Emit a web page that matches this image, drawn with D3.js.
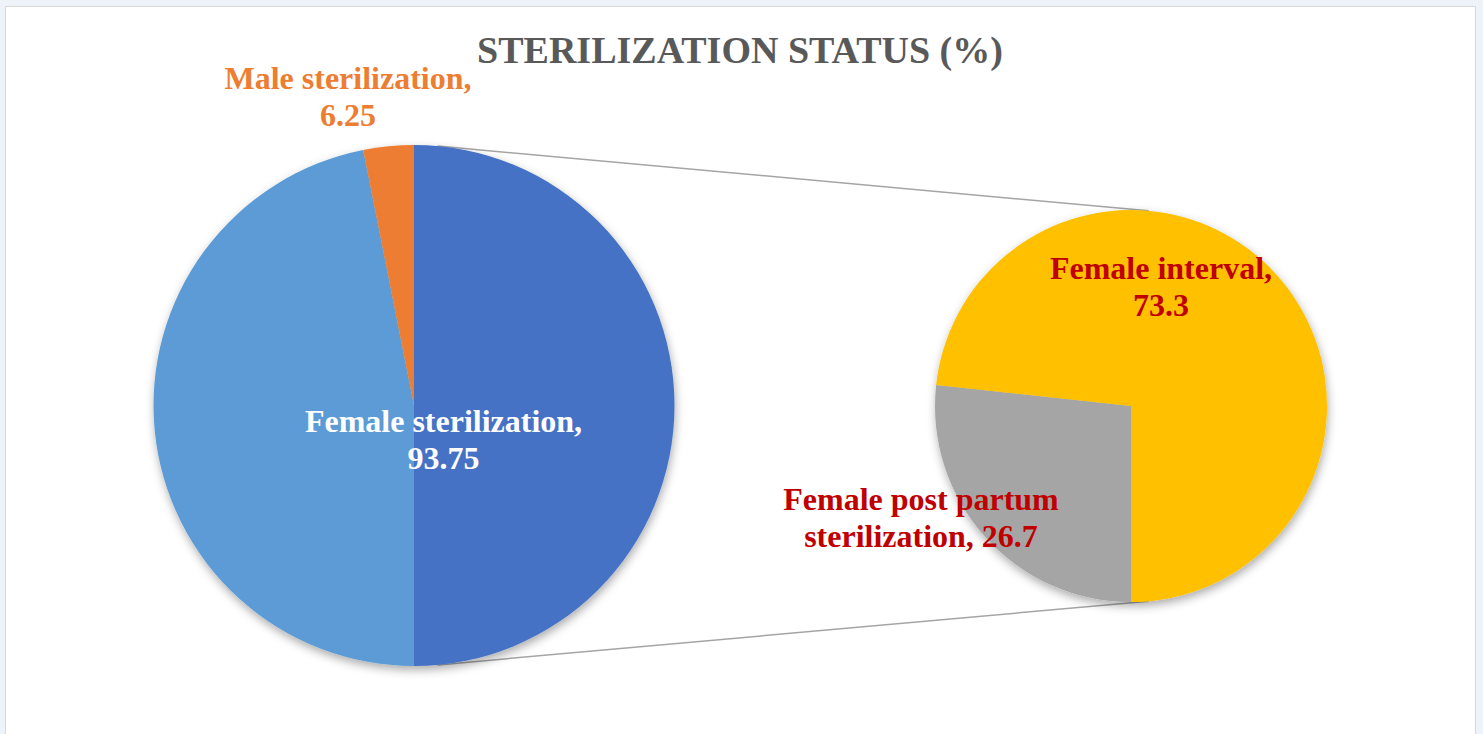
<!DOCTYPE html>
<html>
<head>
<meta charset="utf-8">
<script src="https://cdn.jsdelivr.net/npm/d3@7"></script>
<style>
  html, body { margin: 0; padding: 0; background: #eef3f9; overflow: hidden; }
  svg { display: block; }
</style>
</head>
<body>
<script>
// main pie: the "other" slice holds the split-out categories
const mainCategories = ['Female sterilization', 'Male sterilization']
const mainValues = [93.75, 6.25]
// secondary pie
const subCategories = ['Female post partum sterilization', 'Female interval']
const subValues = [26.7, 73.3]

const title = 'STERILIZATION STATUS (%)'

const width = 1483
const height = 734
const font = '"Liberation Serif", "Times New Roman", serif'

const svg = d3.select('body').append('svg')
  .attr('width', width)
  .attr('height', height)

const defs = svg.append('defs')
const shadow = defs.append('filter')
  .attr('id', 'shadow')
  .attr('x', '-20%').attr('y', '-20%')
  .attr('width', '140%').attr('height', '140%')
shadow.append('feDropShadow')
  .attr('dx', 1).attr('dy', 4)
  .attr('stdDeviation', 5)
  .attr('flood-color', '#000')
  .attr('flood-opacity', 0.33)

// chart area frame
svg.append('rect')
  .attr('x', 5.5).attr('y', 6.5)
  .attr('width', 1470).attr('height', 760)
  .style('fill', '#fff')
  .style('stroke', '#d9d9d9')

const main = { cx: 414, cy: 405.5, r: 260.5 }
const sub = { cx: 1131, cy: 406, r: 196 }

const otherValue = d3.sum(subValues)
const mainData = [
  { name: 'Other', value: otherValue, color: '#4472C4' },
  { name: mainCategories[0], value: mainValues[0], color: '#5B9BD5' },
  { name: mainCategories[1], value: mainValues[1], color: '#ED7D31' }
]
const subData = subCategories.map((c, i) => ({
  name: c, value: subValues[i], color: i === 0 ? '#A5A5A5' : '#FFC000'
}))

const mainPie = d3.pie().sort(null).value(d => d.value).startAngle(0).endAngle(2 * Math.PI)
const subPie = d3.pie().sort(null).value(d => d.value).startAngle(Math.PI).endAngle(3 * Math.PI)

// connector lines between the two pies
const pt = (c, a) => [c.cx + c.r * Math.sin(a), c.cy - c.r * Math.cos(a)]
const off = 5.2 * Math.PI / 180
const connectors = [
  [pt(main, off), pt(sub, off)],
  [pt(main, Math.PI - off), pt(sub, Math.PI - off)]
]
svg.selectAll('.connector')
  .data(connectors)
  .enter().append('line')
  .attr('class', 'connector')
  .attr('x1', d => d[0][0]).attr('y1', d => d[0][1])
  .attr('x2', d => d[1][0]).attr('y2', d => d[1][1])
  .style('stroke', '#a5a5a5')
  .style('stroke-width', 1.5)

const mainG = svg.append('g')
  .attr('transform', `translate(${main.cx}, ${main.cy})`)
  .attr('filter', 'url(#shadow)')
mainG.selectAll('path')
  .data(mainPie(mainData))
  .enter().append('path')
  .attr('d', d3.arc().innerRadius(0).outerRadius(main.r))
  .style('fill', d => d.data.color)

const subG = svg.append('g')
  .attr('transform', `translate(${sub.cx}, ${sub.cy})`)
  .attr('filter', 'url(#shadow)')
subG.selectAll('path')
  .data(subPie(subData))
  .enter().append('path')
  .attr('d', d3.arc().innerRadius(0).outerRadius(sub.r))
  .style('fill', d => d.data.color)

// title
svg.append('text')
  .attr('x', 740)
  .attr('y', 63)
  .style('text-anchor', 'middle')
  .style('font-family', font)
  .style('font-weight', 'bold')
  .style('font-size', '38px')
  .style('fill', '#595959')
  .text(title)

// data labels
const labels = [
  { lines: [mainCategories[1] + ',', String(mainValues[1])], x: 348, y: 89, color: '#ED7D31' },
  { lines: [mainCategories[0] + ',', String(mainValues[0])], x: 443.5, y: 432, color: '#FFFFFF' },
  { lines: [subCategories[1] + ',', String(subValues[1])], x: 1161, y: 279, color: '#C00000' },
  { lines: ['Female post partum', 'sterilization, ' + subValues[0]], x: 921, y: 510, color: '#C00000' }
]
labels.forEach(l => {
  const t = svg.append('text')
    .style('text-anchor', 'middle')
    .style('font-family', font)
    .style('font-weight', 'bold')
    .style('font-size', '32px')
    .style('fill', l.color)
  l.lines.forEach((line, i) => {
    t.append('tspan')
      .attr('x', l.x)
      .attr('y', l.y + i * 36.5)
      .text(line)
  })
})
</script>
</body>
</html>
